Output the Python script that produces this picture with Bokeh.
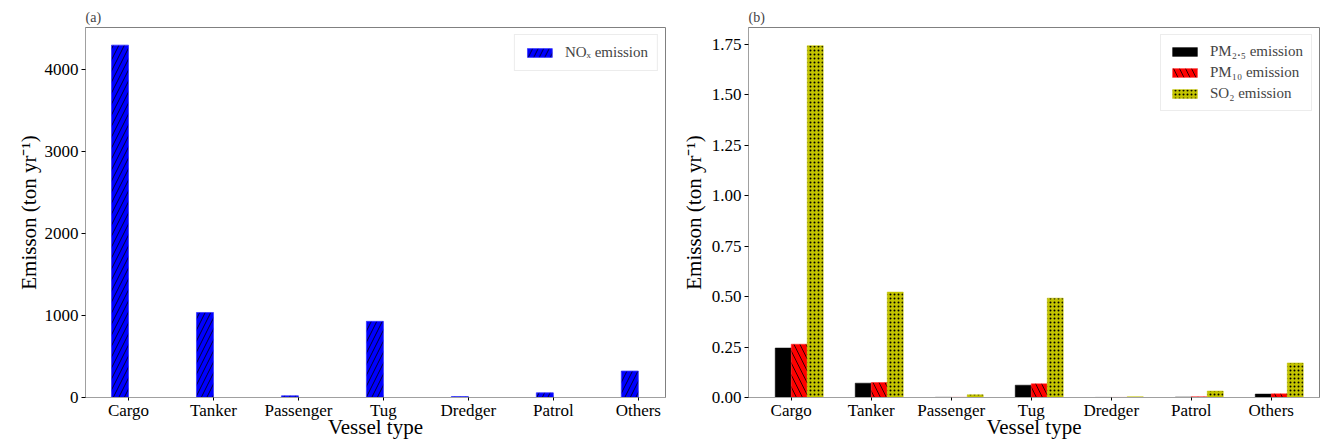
import numpy as np
from bokeh.plotting import figure
from bokeh.models import ColumnDataSource, Range1d, FixedTicker, NumeralTickFormatter
from bokeh.layouts import row
from bokeh.transform import dodge
from bokeh.embed import file_html
from bokeh.resources import INLINE

# ---------------- data ----------------
vessel_types = ["Cargo", "Tanker", "Passenger", "Tug", "Dredger", "Patrol", "Others"]
nox_emission = [4294, 1036, 20, 928, 12, 57, 322]
pm25_emission = [0.245, 0.071, 0.001, 0.061, 0.0005, 0.002, 0.017]
pm10_emission = [0.264, 0.074, 0.001, 0.068, 0.0005, 0.004, 0.018]
so2_emission = [1.742, 0.522, 0.013, 0.492, 0.004, 0.032, 0.171]
left_yticks = [0, 1000, 2000, 3000, 4000]
right_yticks = [0, 0.25, 0.5, 0.75, 1.0, 1.25, 1.5, 1.75]

FONT = "Liberation Serif"
BAR_W = 0.2

src = ColumnDataSource(dict(
    x=list(range(len(vessel_types))),
    nox=nox_emission, pm25=pm25_emission, pm10=pm10_emission, so2=so2_emission,
))


def style(p, yticks, label, label_standoff):
    p.title.text_font = FONT
    p.title.text_font_size = "14px"
    p.title.text_font_style = "normal"
    p.title.align = "left"
    p.title.standoff = 6
    p.title.offset = 0
    p.xgrid.visible = False
    p.ygrid.visible = False
    p.outline_line_color = "#808080"
    p.outline_line_width = 1
    p.xaxis.ticker = FixedTicker(ticks=list(range(len(vessel_types))))
    p.xaxis.major_label_overrides = {i: v for i, v in enumerate(vessel_types)}
    p.yaxis.ticker = FixedTicker(ticks=yticks)
    for ax in (p.xaxis[0], p.yaxis[0]):
        ax.axis_line_color = "#a0a0a0"
        ax.major_tick_line_color = "black"
        ax.major_tick_in = 0
        ax.major_tick_out = 4
        ax.minor_tick_line_color = None
        ax.major_label_text_font = FONT
        ax.major_label_text_font_size = "17px"
        ax.major_label_text_color = "black"
        ax.axis_label_text_font = FONT
        ax.axis_label_text_font_size = "21px"
        ax.axis_label_text_font_style = "normal"
        ax.axis_label_text_color = "black"
    p.xaxis.major_tick_out = 3
    p.xaxis.axis_label = "Vessel type"
    p.xaxis.major_label_standoff = 0
    p.xaxis.axis_label_standoff = -8
    p.yaxis.axis_label = label
    p.yaxis.major_label_standoff = 3
    p.yaxis.axis_label_standoff = label_standoff


def style_legend(p, pad):
    lg = p.legend[0]
    lg.location = "top_right"
    lg.margin = 7
    lg.padding = pad
    lg.spacing = 4
    lg.label_text_font = FONT
    lg.label_text_font_size = "15px"
    lg.label_standoff = 10
    lg.glyph_width = 31
    lg.glyph_height = 11
    lg.label_height = 15
    lg.border_line_color = "#d9d9d9"
    lg.border_line_width = 1
    lg.background_fill_alpha = 0.85


# ---------------- panel (a) ----------------
p1 = figure(width=672, height=441, title="(a)",
            x_range=Range1d(-0.506, 6.32), y_range=Range1d(0, 4509),
            output_backend="svg", toolbar_location=None,
            min_border_left=85, min_border_right=7, min_border_top=27,
            min_border_bottom=20)
p1.vbar(x=dodge("x", -BAR_W / 2), top="nox", width=BAR_W, source=src,
        fill_color="#0000ff", line_color="#3a3aff", line_width=0.8,
        hatch_pattern="/", hatch_color="black", hatch_scale=11, hatch_weight=0.8,
        legend_label="NOₓ emission")
style(p1, left_yticks, "Emisson (ton yr⁻¹)", 1)
style_legend(p1, 9)

# ---------------- panel (b) ----------------
p2 = figure(width=648, height=441, title="(b)",
            x_range=Range1d(-0.534, 6.603), y_range=Range1d(0, 1.832),
            output_backend="svg", toolbar_location=None,
            min_border_left=76, min_border_right=1, min_border_top=27,
            min_border_bottom=20)
p2.vbar(x=dodge("x", -BAR_W / 2), top="pm25", width=BAR_W, source=src,
        fill_color="black", line_color="black", line_width=0.5,
        legend_label="PM₂.₅ emission")
p2.vbar(x=dodge("x", BAR_W / 2), top="pm10", width=BAR_W, source=src,
        fill_color="#ff0000", line_color="#ff2a2a", line_width=0.5,
        hatch_pattern="\\", hatch_color="black", hatch_scale=12, hatch_weight=0.8,
        legend_label="PM₁₀ emission")
p2.vbar(x=dodge("x", 3 * BAR_W / 2), top="so2", width=BAR_W, source=src,
        fill_color="#c4c400", line_color="#c4c400", line_width=0.5,
        hatch_pattern=".", hatch_color="black", hatch_scale=4, hatch_weight=1.0,
        legend_label="SO₂ emission")
style(p2, right_yticks, "Emisson (ton yr⁻¹)", 3)
p2.yaxis.formatter = NumeralTickFormatter(format="0.00")
style_legend(p2, 8)

layout = row(p1, p2, spacing=0)
open("out.html", "w").write(file_html(layout, INLINE))
